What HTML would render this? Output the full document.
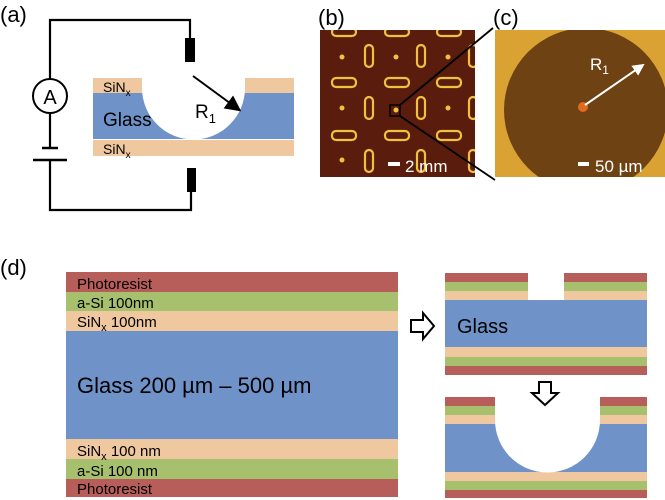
<!DOCTYPE html>
<html><head><meta charset="utf-8"><style>
body{margin:0;background:#fff;width:665px;height:500px;overflow:hidden}
svg{display:block;font-family:"Liberation Sans",sans-serif}
</style></head><body>
<svg width="665" height="500" viewBox="0 0 665 500">
<defs><marker id="ah" markerWidth="8" markerHeight="8" refX="6" refY="4" orient="auto"><path d="M0,0L8,4L0,8z" fill="#000"/></marker>
<marker id="ahw" markerWidth="6" markerHeight="6" refX="5" refY="3" orient="auto"><path d="M0,0L6,3L0,6z" fill="#fff"/></marker>
<clipPath id="cb"><rect x="320" y="30" width="155" height="147"/></clipPath>
<clipPath id="cc"><rect x="495" y="30" width="170" height="147"/></clipPath></defs>

<g>
<text x="0" y="22" font-size="22">(a)</text>
<path d="M50,79V20H190V38M50,113V148M50,160V210H191V192" fill="none" stroke="#000" stroke-width="2.2"/>
<circle cx="50" cy="96" r="17" fill="#fff" stroke="#000" stroke-width="2"/>
<text x="50" y="104" font-size="20" text-anchor="middle">A</text>
<line x1="42" y1="148" x2="58" y2="148" stroke="#000" stroke-width="2.5"/>
<line x1="33" y1="160" x2="67" y2="160" stroke="#000" stroke-width="2.5"/>
<rect x="185" y="38" width="10" height="24" fill="#000"/>
<rect x="187" y="168" width="9" height="24" fill="#000"/>
<rect x="93" y="78" width="201" height="15" fill="#f0c8a0"/>
<rect x="93" y="93" width="201" height="46" fill="#6f93c8"/>
<rect x="93" y="140" width="201" height="16" fill="#f0c8a0"/>
<path d="M142,70H245V88A51.5,51.5 0 0 1 142,88Z" fill="#fff"/>
<line x1="193" y1="76" x2="238" y2="109" stroke="#000" stroke-width="2" marker-end="url(#ah)"/>
<text x="195" y="118" font-size="19">R<tspan font-size="13" dy="5">1</tspan></text>
<text x="103" y="92" font-size="14">SiN<tspan font-size="10" dy="4">x</tspan></text>
<text x="103" y="126" font-size="19">Glass</text>
<text x="103" y="154" font-size="14">SiN<tspan font-size="10" dy="4">x</tspan></text>
</g>

<g>
<text x="318" y="25" font-size="22">(b)</text>
<g clip-path="url(#cb)">
<rect x="320" y="30" width="155" height="147" fill="#5a1c0c"/>
<g fill="none" stroke="#f0c040" stroke-width="2.2">
<rect x="332" y="28" width="24" height="8" rx="4"/><rect x="385" y="28" width="24" height="8" rx="4"/><rect x="437" y="28" width="24" height="8" rx="4"/>
<rect x="332" y="78" width="24" height="9" rx="4"/><rect x="385" y="78" width="24" height="9" rx="4"/><rect x="437" y="78" width="24" height="9" rx="4"/>
<rect x="332" y="131" width="24" height="9" rx="4"/><rect x="385" y="131" width="24" height="9" rx="4"/><rect x="437" y="131" width="24" height="9" rx="4"/>
<rect x="365" y="45" width="8" height="22" rx="4"/><rect x="417" y="45" width="8" height="22" rx="4"/><rect x="469" y="45" width="8" height="22" rx="4"/>
<rect x="365" y="97" width="8" height="22" rx="4"/><rect x="417" y="97" width="8" height="22" rx="4"/><rect x="469" y="97" width="8" height="22" rx="4"/>
<rect x="365" y="150" width="8" height="22" rx="4"/><rect x="417" y="150" width="8" height="22" rx="4"/><rect x="469" y="150" width="8" height="22" rx="4"/>
</g>
<g fill="#f0c040"><circle cx="342" cy="57" r="2.5"/><circle cx="396" cy="57" r="2.5"/><circle cx="448" cy="57" r="2.5"/><circle cx="342" cy="108" r="2.5"/><circle cx="396" cy="110" r="2.5"/><circle cx="448" cy="108" r="2.5"/><circle cx="342" cy="160" r="2.5"/></g>
</g>
<rect x="390" y="105" width="10" height="11" fill="none" stroke="#000" stroke-width="1.5"/>
<rect x="388" y="162" width="12" height="4" fill="#fff"/>
<text x="405" y="172" font-size="17" fill="#fff">2 mm</text>
</g>

<g>
<text x="493" y="25" font-size="22">(c)</text>
<g clip-path="url(#cc)">
<rect x="495" y="30" width="170" height="147" fill="#d9a232"/>
<circle cx="586" cy="110" r="82" fill="#6e4212"/>
<circle cx="583" cy="107" r="5" fill="#e06a20"/>
</g>
<line x1="585" y1="105" x2="643" y2="65" stroke="#fff" stroke-width="2" marker-end="url(#ahw)"/>
<text x="590" y="70" font-size="17" fill="#fff">R<tspan font-size="12" dy="4">1</tspan></text>
<rect x="578" y="162" width="11" height="4" fill="#fff"/>
<text x="595" y="172" font-size="17" fill="#fff">50 µm</text>
<path d="M400,105L493,28M400,116L495,180" stroke="#000" stroke-width="1.8"/>
</g>

<g>
<text x="0" y="275" font-size="22">(d)</text>
<rect x="66" y="272" width="332" height="20" fill="#b85e5a"/>
<rect x="66" y="292" width="332" height="19" fill="#a6c06e"/>
<rect x="66" y="311" width="332" height="20" fill="#f0c8a0"/>
<rect x="66" y="331" width="332" height="108" fill="#6f93c8"/>
<rect x="66" y="439" width="332" height="20" fill="#f0c8a0"/>
<rect x="66" y="459" width="332" height="20" fill="#a6c06e"/>
<rect x="66" y="479" width="332" height="18" fill="#b85e5a"/>
<g font-size="15"><text x="77" y="289">Photoresist</text><text x="77" y="308">a-Si 100nm</text>
<text x="77" y="327">SiN<tspan font-size="11" dy="4">x</tspan><tspan dy="-4">  100nm</tspan></text>
<text x="77" y="456">SiN<tspan font-size="11" dy="4">x</tspan><tspan dy="-4"> 100 nm</tspan></text>
<text x="77" y="476">a-Si 100 nm</text><text x="77" y="494">Photoresist</text></g>
<text x="77" y="393" font-size="22">Glass 200 µm – 500 µm</text>

<path d="M411,320h12v-7l11,13l-11,13v-7h-12z" fill="#fff" stroke="#000" stroke-width="2"/>
<g>
<rect x="445" y="273" width="202" height="9" fill="#b85e5a"/><rect x="445" y="282" width="202" height="9" fill="#a6c06e"/><rect x="445" y="291" width="202" height="9" fill="#f0c8a0"/>
<rect x="445" y="300" width="202" height="47" fill="#6f93c8"/>
<rect x="445" y="347" width="202" height="10" fill="#f0c8a0"/><rect x="445" y="357" width="202" height="9" fill="#a6c06e"/><rect x="445" y="366" width="202" height="9" fill="#b85e5a"/>
<rect x="528" y="270" width="36" height="30" fill="#fff"/>
<text x="457" y="333" font-size="20">Glass</text>
</g>
<g>
<rect x="445" y="397" width="202" height="9" fill="#b85e5a"/><rect x="445" y="406" width="202" height="9" fill="#a6c06e"/><rect x="445" y="415" width="202" height="9" fill="#f0c8a0"/>
<rect x="445" y="424" width="202" height="48" fill="#6f93c8"/>
<rect x="445" y="472" width="202" height="9" fill="#f0c8a0"/><rect x="445" y="481" width="202" height="9" fill="#a6c06e"/><rect x="445" y="490" width="202" height="8" fill="#b85e5a"/>
<path d="M495,394H600V420A52.5,52.5 0 0 1 495,420Z" fill="#fff"/>
</g>
<path d="M539,382h12v11h7l-13,12l-13,-12h7z" fill="#fff" stroke="#000" stroke-width="2"/>
</g>
</svg>
</body></html>
